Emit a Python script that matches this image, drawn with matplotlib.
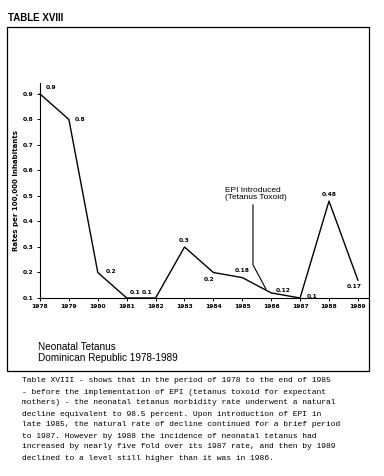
import matplotlib.pyplot as plt
from matplotlib.patches import Rectangle

# data
years = [1978, 1979, 1980, 1981, 1982, 1983, 1984, 1985, 1986, 1987, 1988, 1989]
rates = [0.9, 0.8, 0.2, 0.1, 0.1, 0.3, 0.2, 0.18, 0.12, 0.1, 0.48, 0.17]
labels = ["0.9", "0.8", "0.2", "0.1", "0.1", "0.3", "0.2", "0.18", "0.12", "0.1", "0.48", "0.17"]
# label offsets in points (dx, dy, ha, va)
offsets = [(4, 3, "left", "bottom"), (4, 0, "left", "center"), (6, 1, "left", "center"),
           (2, 2, "left", "bottom"), (-2, 2, "right", "bottom"), (0, 3, "center", "bottom"),
           (-3, -3, "center", "top"), (0, 3, "center", "bottom"), (3, 2, "left", "center"),
           (5, 1, "left", "center"), (0, 3, "center", "bottom"), (-3, -3, "center", "top")]

caption = [
    "Table XVIII - shows that in the period of 1978 to the end of 1985",
    "- before the implementation of EPI (tetanus toxoid for expectant",
    "mothers) - the neonatal tetanus morbidity rate underwent a natural",
    "decline equivalent to 98.5 percent. Upon introduction of EPI in",
    "late 1985, the natural rate of decline continued for a brief period",
    "to 1987. However by 1988 the incidence of neonatal tetanus had",
    "increased by nearly five fold over its 1987 rate, and then by 1989",
    "declined to a level still higher than it was in 1986.",
]

W, H = 384, 476
fig = plt.figure(figsize=(W / 100, H / 100), dpi=100)
fig.patch.set_facecolor("white")

# frame around the chart
fig.patches.append(Rectangle((7 / W, 1 - 371 / H), 362 / W, 344 / H, transform=fig.transFigure,
                             fill=False, edgecolor="black", linewidth=0.9))
fig.text(8 / W, 1 - 18 / H, "TABLE XVIII", fontsize=7, fontweight="bold", family="Liberation Sans",
         va="center", ha="left")

ax = fig.add_axes([40 / W, 1 - 298 / H, 328 / W, 215 / H])
ax.plot(years, rates, color="black", linewidth=1.0, clip_on=False)
for x, y, lab, (dx, dy, ha, va) in zip(years, rates, labels, offsets):
    ax.annotate(lab, (x, y), xytext=(dx, dy), textcoords="offset points",
                fontsize=4.3, fontweight="bold", ha=ha, va=va)

# EPI introduction marker
ax.plot([1985.37, 1985.37, 1985.82], [0.465, 0.23, 0.135], color="black", linewidth=0.8)
ax.text(1984.4, 0.48, "EPI Introduced\n(Tetanus Toxoid)", fontsize=6, family="Liberation Sans",
        ha="left", va="bottom", linespacing=1.05)

ax.set_xlim(1978, 1989.35)
ax.set_ylim(0.1, 0.943)
ax.set_xticks(years)
ax.set_xticklabels([str(y) for y in years], fontsize=4.3, fontweight="bold")
ax.set_yticks([0.1, 0.2, 0.3, 0.4, 0.5, 0.6, 0.7, 0.8, 0.9])
ax.set_yticklabels(["0.1", "0.2", "0.3", "0.4", "0.5", "0.6", "0.7", "0.8", "0.9"],
                   fontsize=4.3, fontweight="bold")
ax.tick_params(axis="both", length=2.5, width=0.7, pad=2)
ax.spines["top"].set_visible(False)
ax.spines["right"].set_visible(False)
ax.spines["left"].set_linewidth(0.8)
ax.spines["bottom"].set_linewidth(0.8)
ax.set_ylabel("Rates per 100,000 Inhabitants", fontsize=5, fontweight="bold", labelpad=3)

fig.text(38 / W, 1 - 347 / H, "Neonatal Tetanus", fontsize=7.2, family="Liberation Sans",
         va="center", ha="left")
fig.text(38 / W, 1 - 358 / H, "Dominican Republic 1978-1989", fontsize=7.2, family="Liberation Sans",
         va="center", ha="left")

for i, line in enumerate(caption):
    fig.text(22 / W, 1 - (381 + 11 * i) / H, line, fontsize=5.8, family="Liberation Mono",
             va="center", ha="left")

fig.savefig("out.png", dpi=100)
